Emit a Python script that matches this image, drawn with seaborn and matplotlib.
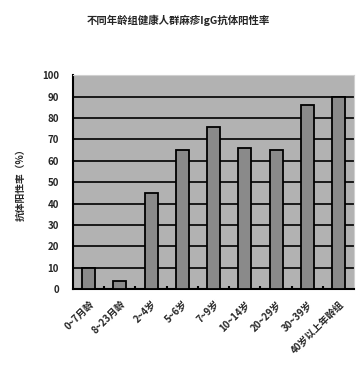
import matplotlib
matplotlib.use("Agg")
import matplotlib.pyplot as plt
import seaborn as sns
import pandas as pd
import numpy as np

# Age groups and antibody positive rate (%)
age_groups = ["0~7月龄", "8~23月龄", "2~4岁", "5~6岁", "7~9岁", "10~14岁",
              "20~29岁", "30~39岁", "40岁以上年龄组"]
positive_rate = [10, 4, 45, 65, 76, 66, 65, 86, 90]
y_ticks = list(range(0, 101, 10))

title_text = "不同年龄组健康人群麻疹IgG抗体阳性率"
y_label = "抗体阳性率（%）"

sns.set_theme(style="white")
plt.rcParams["font.family"] = ["Noto Sans CJK SC", "DejaVu Sans"]

df = pd.DataFrame({"age": age_groups, "rate": positive_rate})

fig = plt.figure(figsize=(3.56, 3.74), dpi=100)
ax = fig.add_axes([0.205, 0.227, 0.79, 0.572])
ax.set_facecolor("#b2b2b2")

sns.barplot(data=df, x="age", y="rate", ax=ax, color="#8a8a8a",
            saturation=1, width=0.42, edgecolor="black", linewidth=1.3,
            zorder=3)

ax.set_ylim(0, 100)
ax.set_xlim(-0.5, len(age_groups) - 0.5)
ax.set_yticks(y_ticks)
ax.set_yticklabels([str(v) for v in y_ticks], fontsize=7, fontweight="bold")
for v in y_ticks[1:-1]:
    ax.axhline(v, color="black", lw=1.2, zorder=1)

ax.set_xticks(range(len(age_groups)))
ax.set_xticklabels(age_groups, rotation=45, ha="right", rotation_mode="anchor",
                   fontsize=7, fontweight="bold")
ax.set_xticks(np.arange(0.5, len(age_groups) - 0.5, 1), minor=True)
ax.tick_params(axis="x", which="major", length=0, pad=7)
ax.tick_params(axis="x", which="minor", direction="in", length=2.5,
               width=1.5, color="black", bottom=True)
ax.tick_params(axis="y", length=0, pad=10)

for side in ["left", "bottom"]:
    ax.spines[side].set_color("black")
    ax.spines[side].set_linewidth(1.5)
for side in ["top", "right"]:
    ax.spines[side].set_color("#d0d0d0")
    ax.spines[side].set_linewidth(0.8)

ax.set_xlabel("")
ax.set_ylabel(y_label, fontsize=7, fontweight="bold", labelpad=12)
fig.text(0.5, 0.947, title_text, ha="center", va="center",
         fontsize=7.5, fontweight="bold")

fig.savefig("out.png", dpi=100)
